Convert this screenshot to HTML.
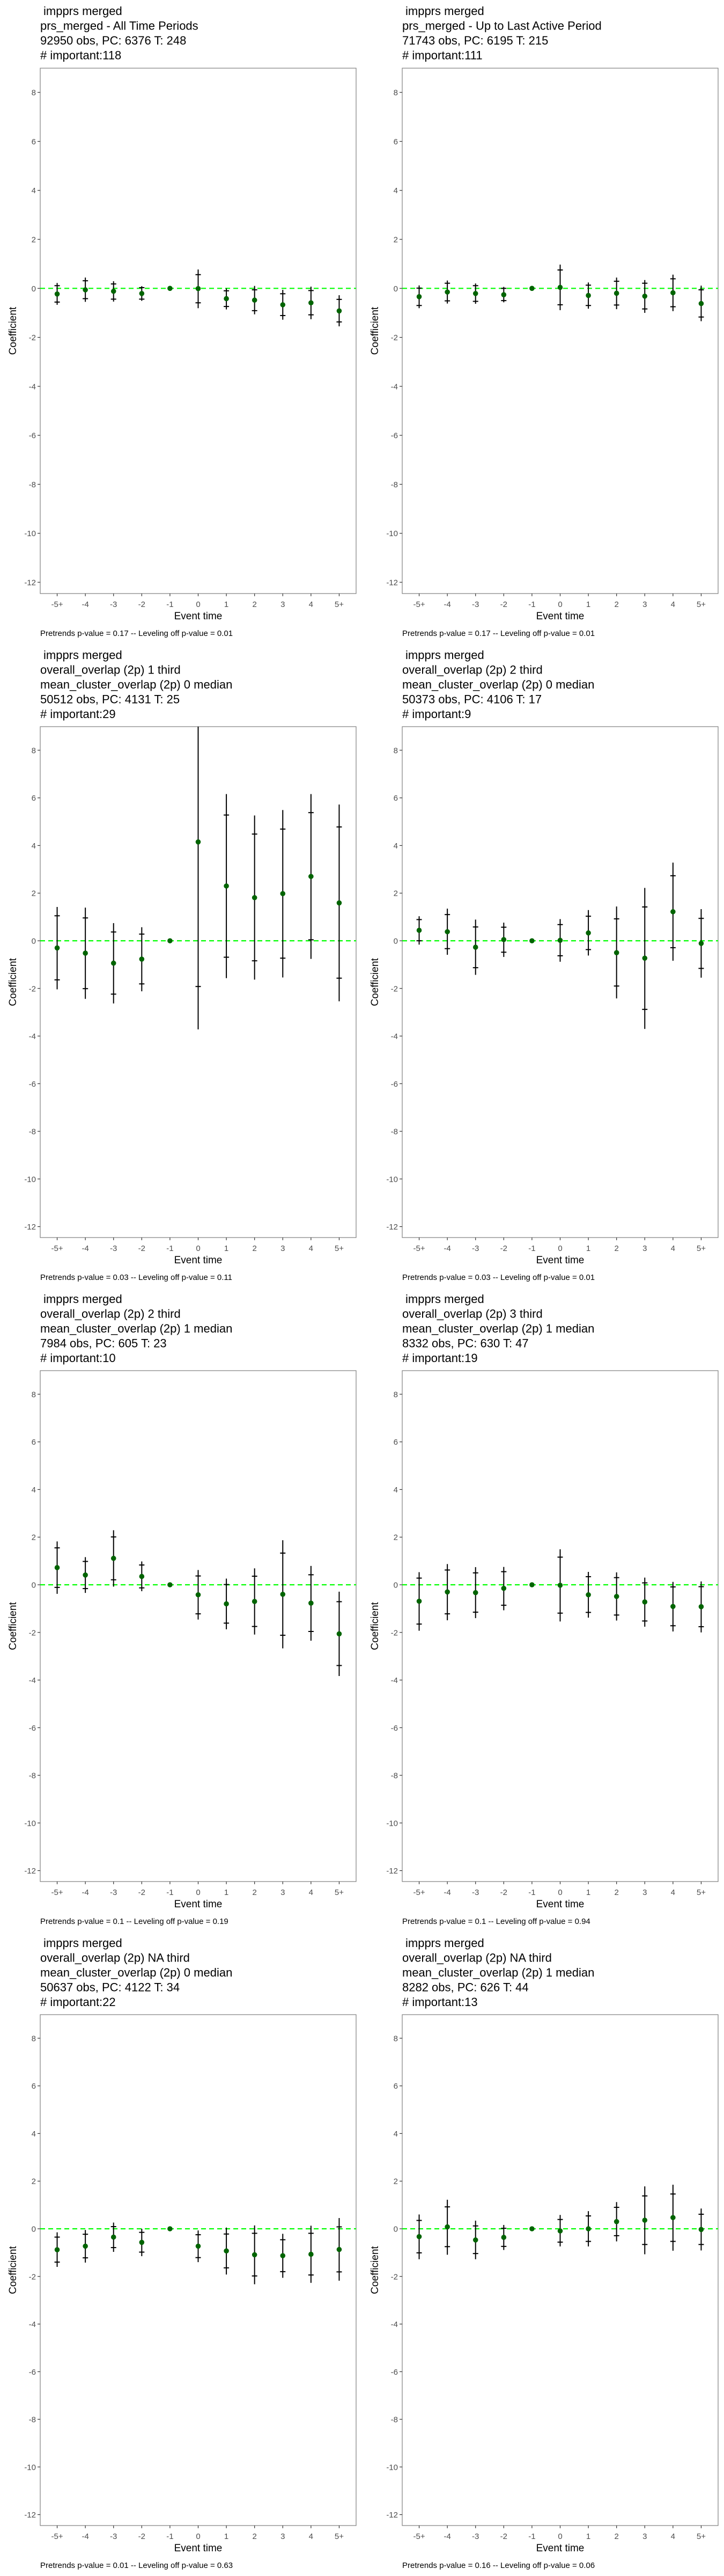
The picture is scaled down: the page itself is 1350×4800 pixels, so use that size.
<!DOCTYPE html>
<html>
<head>
<meta charset="utf-8">
<style>
  html, body { margin: 0; padding: 0; background: #ffffff; }
  svg { display: block; font-family: "Liberation Sans", Arial, sans-serif; }
</style>
</head>
<body>
<svg id="fig" width="1350" height="4800" viewBox="0 0 1350 4800" xmlns="http://www.w3.org/2000/svg"></svg>
<script>
// ---- Shared axis data ----
const eventCategories = ["-5+", "-4", "-3", "-2", "-1", "0", "1", "2", "3", "4", "5+"];
const yTickValues = [8, 6, 4, 2, 0, -2, -4, -6, -8, -10, -12];
const yTickLabels = ["8", "6", "4", "2", "0", "-2", "-4", "-6", "-8", "-10", "-12"];

// ---- Panel 1: prs_merged - All Time Periods ----
const est1    = [-0.23, -0.06, -0.12, -0.21, 0, -0.01, -0.42, -0.48, -0.67, -0.59, -0.92];
const capHi1  = [0.11, 0.31, 0.18, 0.03, null, 0.56, -0.10, -0.06, -0.22, -0.09, -0.45];
const capLo1  = [-0.56, -0.42, -0.44, -0.44, null, -0.59, -0.74, -0.91, -1.11, -1.08, -1.37];
const lineHi1 = [0.22, 0.44, 0.29, 0.09, null, 0.77, 0.00, 0.10, -0.06, 0.07, -0.28];
const lineLo1 = [-0.67, -0.55, -0.54, -0.51, null, -0.81, -0.86, -1.06, -1.28, -1.26, -1.55];

// ---- Panel 2: prs_merged - Up to Last Active Period ----
const est2    = [-0.34, -0.15, -0.21, -0.26, 0, 0.04, -0.29, -0.20, -0.32, -0.18, -0.62];
const capHi2  = [0.01, 0.21, 0.11, 0.00, null, 0.75, 0.13, 0.29, 0.21, 0.39, -0.06];
const capLo2  = [-0.70, -0.51, -0.53, -0.50, null, -0.67, -0.70, -0.68, -0.84, -0.75, -1.17];
const lineHi2 = [0.12, 0.32, 0.20, 0.06, null, 0.97, 0.24, 0.44, 0.34, 0.56, 0.11];
const lineLo2 = [-0.81, -0.62, -0.63, -0.57, null, -0.89, -0.83, -0.85, -1.00, -0.93, -1.34];

// ---- Panel 3: overlap 1 third / 0 median ----
const est3    = [-0.30, -0.52, -0.94, -0.77, 0, 4.15, 2.30, 1.81, 1.98, 2.70, 1.59];
const capHi3  = [1.05, 0.96, 0.37, 0.28, null, 10.2, 5.28, 4.48, 4.69, 5.38, 4.78];
const capLo3  = [-1.64, -2.01, -2.24, -1.81, null, -1.92, -0.69, -0.84, -0.73, 0.04, -1.57];
const lineHi3 = [1.42, 1.39, 0.74, 0.57, null, 12.0, 6.16, 5.26, 5.49, 6.16, 5.72];
const lineLo3 = [-2.04, -2.44, -2.63, -2.12, null, -3.72, -1.57, -1.63, -1.54, -0.76, -2.54];

// ---- Panel 4: overlap 2 third / 0 median ----
const est4    = [0.44, 0.38, -0.27, 0.05, 0, 0.02, 0.33, -0.50, -0.73, 1.22, -0.11];
const capHi4  = [0.89, 1.10, 0.58, 0.57, null, 0.68, 1.03, 0.92, 1.42, 2.73, 0.94];
const capLo4  = [0.00, -0.33, -1.13, -0.48, null, -0.63, -0.37, -1.90, -2.88, -0.29, -1.16];
const lineHi4 = [1.03, 1.35, 0.89, 0.76, null, 0.91, 1.29, 1.44, 2.22, 3.28, 1.33];
const lineLo4 = [-0.16, -0.59, -1.43, -0.68, null, -0.88, -0.62, -2.42, -3.70, -0.84, -1.55];

// ---- Panel 5: overlap 2 third / 1 median ----
const est5    = [0.72, 0.41, 1.11, 0.35, 0, -0.42, -0.80, -0.70, -0.40, -0.77, -2.06];
const capHi5  = [1.55, 0.98, 2.01, 0.83, null, 0.37, 0.01, 0.36, 1.33, 0.42, -0.71];
const capLo5  = [-0.11, -0.16, 0.21, -0.13, null, -1.22, -1.61, -1.75, -2.12, -1.96, -3.39];
const lineHi5 = [1.82, 1.16, 2.29, 0.98, null, 0.62, 0.26, 0.69, 1.87, 0.79, -0.29];
const lineLo5 = [-0.38, -0.34, -0.08, -0.27, null, -1.46, -1.87, -2.09, -2.67, -2.35, -3.83];

// ---- Panel 6: overlap 3 third / 1 median ----
const est6    = [-0.69, -0.30, -0.33, -0.15, 0, -0.02, -0.42, -0.49, -0.72, -0.91, -0.92];
const capHi6  = [0.28, 0.62, 0.50, 0.55, null, 1.16, 0.34, 0.30, 0.08, -0.09, -0.08];
const capLo6  = [-1.65, -1.22, -1.15, -0.86, null, -1.19, -1.16, -1.27, -1.52, -1.72, -1.76];
const lineHi6 = [0.53, 0.87, 0.74, 0.75, null, 1.49, 0.54, 0.52, 0.30, 0.12, 0.14];
const lineLo6 = [-1.93, -1.49, -1.40, -1.07, null, -1.54, -1.38, -1.50, -1.76, -1.96, -2.00];

// ---- Panel 7: overlap NA third / 0 median ----
const est7    = [-0.88, -0.73, -0.35, -0.57, 0, -0.73, -0.93, -1.09, -1.13, -1.07, -0.87];
const capHi7  = [-0.35, -0.23, 0.09, -0.15, null, -0.25, -0.22, -0.19, -0.46, -0.19, 0.08];
const capLo7  = [-1.40, -1.22, -0.79, -0.98, null, -1.21, -1.64, -1.98, -1.80, -1.94, -1.81];
const lineHi7 = [-0.15, -0.05, 0.26, 0.00, null, -0.07, 0.05, 0.14, -0.21, 0.13, 0.45];
const lineLo7 = [-1.60, -1.42, -0.97, -1.15, null, -1.40, -1.92, -2.33, -2.06, -2.27, -2.18];

// ---- Panel 8: overlap NA third / 1 median ----
const est8    = [-0.33, 0.08, -0.47, -0.36, 0, -0.09, 0.00, 0.30, 0.36, 0.47, -0.03];
const capHi8  = [0.35, 0.92, 0.12, 0.02, null, 0.39, 0.54, 0.90, 1.38, 1.46, 0.61];
const capLo8  = [-1.01, -0.75, -1.04, -0.74, null, -0.56, -0.53, -0.29, -0.66, -0.53, -0.66];
const lineHi8 = [0.60, 1.22, 0.34, 0.16, null, 0.58, 0.74, 1.12, 1.78, 1.85, 0.85];
const lineLo8 = [-1.28, -1.09, -1.28, -0.89, null, -0.74, -0.74, -0.53, -1.07, -0.92, -0.91];

const titles = [
  [" impprs merged", "prs_merged - All Time Periods", "92950 obs, PC: 6376 T: 248", "# important:118"],
  [" impprs merged", "prs_merged - Up to Last Active Period", "71743 obs, PC: 6195 T: 215", "# important:111"],
  [" impprs merged", "overall_overlap (2p) 1 third", "mean_cluster_overlap (2p) 0 median", "50512 obs, PC: 4131 T: 25", "# important:29"],
  [" impprs merged", "overall_overlap (2p) 2 third", "mean_cluster_overlap (2p) 0 median", "50373 obs, PC: 4106 T: 17", "# important:9"],
  [" impprs merged", "overall_overlap (2p) 2 third", "mean_cluster_overlap (2p) 1 median", "7984 obs, PC: 605 T: 23", "# important:10"],
  [" impprs merged", "overall_overlap (2p) 3 third", "mean_cluster_overlap (2p) 1 median", "8332 obs, PC: 630 T: 47", "# important:19"],
  [" impprs merged", "overall_overlap (2p) NA third", "mean_cluster_overlap (2p) 0 median", "50637 obs, PC: 4122 T: 34", "# important:22"],
  [" impprs merged", "overall_overlap (2p) NA third", "mean_cluster_overlap (2p) 1 median", "8282 obs, PC: 626 T: 44", "# important:13"]
];
const pretrendP = ["0.17", "0.17", "0.03", "0.03", "0.1", "0.1", "0.01", "0.16"];
const levelingP = ["0.01", "0.01", "0.11", "0.01", "0.19", "0.94", "0.63", "0.06"];

const panels = [
  [est1, capHi1, capLo1, lineHi1, lineLo1],
  [est2, capHi2, capLo2, lineHi2, lineLo2],
  [est3, capHi3, capLo3, lineHi3, lineLo3],
  [est4, capHi4, capLo4, lineHi4, lineLo4],
  [est5, capHi5, capLo5, lineHi5, lineLo5],
  [est6, capHi6, capLo6, lineHi6, lineLo6],
  [est7, capHi7, capLo7, lineHi7, lineLo7],
  [est8, capHi8, capLo8, lineHi8, lineLo8]
];

const NS = "http://www.w3.org/2000/svg";
const fig = document.getElementById("fig");
const Y_MAX = 8.99, Y_MIN = -12.46;

function mk(tag, attrs, parent) {
  const e = document.createElementNS(NS, tag);
  for (const k in attrs) e.setAttribute(k, attrs[k]);
  parent.appendChild(e);
  return e;
}

const defs = mk("defs", {}, fig);

panels.forEach(function (p, i) {
  const row = Math.floor(i / 2), col = i % 2;
  const ox = col * 675;
  const left = 75 + ox, right = 664 + ox;
  const top = row === 0 ? 127 : 1354 + 1200 * (row - 1);
  const bottom = 1106 + 1200 * row;
  const step = (right - left) / (eventCategories.length + 0.2);
  const xScale = function (k) { return left + step * (0.6 + k); };
  const yScale = function (v) { return top + (Y_MAX - v) / (Y_MAX - Y_MIN) * (bottom - top); };

  const g = mk("g", {}, fig);
  
  

  // title
  const tb = 28 + 1200 * row;
  titles[i].forEach(function (line, li) {
    const t = mk("text", { x: (li === 0 ? left + 6 : left), y: tb + li * 27.5, "font-size": "22", fill: "#000" }, g);
    
    
    t.textContent = line.trim();
  });

  // plot border
  const border = mk("rect", { x: left, y: top, width: right - left, height: bottom - top, fill: "#fff", stroke: "#7f7f7f", "stroke-width": "1.2" }, g);
  
  

  // clip
  const cp = mk("clipPath", { id: "clip" + i }, defs);
  mk("rect", { x: left, y: top, width: right - left, height: bottom - top }, cp);

  // y ticks
  yTickValues.forEach(function (v, k) {
    const y = yScale(v);
    const tk = mk("line", { x1: left - 5, x2: left, y1: y, y2: y, stroke: "#333", "stroke-width": "1.2" }, g);
    
    
    const tl = mk("text", { x: left - 8, y: y + 5.5, "font-size": "15", fill: "#4d4d4d", "text-anchor": "end" }, g);
    
    
    tl.textContent = yTickLabels[k];
  });

  // x ticks
  eventCategories.forEach(function (c, k) {
    const x = xScale(k);
    const tk = mk("line", { x1: x, x2: x, y1: bottom, y2: bottom + 5, stroke: "#333", "stroke-width": "1.2" }, g);
    
    
    const tl = mk("text", { x: x, y: bottom + 25, "font-size": "15", fill: "#4d4d4d", "text-anchor": "middle" }, g);
    
    
    tl.textContent = c;
  });

  // axis titles
  const xt = mk("text", { x: (left + right) / 2, y: bottom + 48, "font-size": "19", fill: "#000", "text-anchor": "middle" }, g);
  
  
  xt.textContent = "Event time";
  const cy = (top + bottom) / 2;
  const yt = mk("text", { x: 0, y: 0, "font-size": "19", fill: "#000", "text-anchor": "middle", transform: "translate(" + (ox + 30) + "," + cy + ") rotate(-90)" }, g);
  
  
  yt.textContent = "Coefficient";

  // caption
  const cap = mk("text", { x: left, y: bottom + 79, "font-size": "15", fill: "#000" }, g);
  
  
  cap.textContent = "Pretrends p-value = " + pretrendP[i] + " -- Leveling off p-value = " + levelingP[i];

  const marks = mk("g", { "clip-path": "url(#clip" + i + ")" }, g);

  // zero line
  const zl = mk("line", { x1: left, x2: right, y1: yScale(0), y2: yScale(0), stroke: "#00ff00", "stroke-width": "2.2", "stroke-dasharray": "9,6" }, marks);
  
  

  const est = p[0], capHi = p[1], capLo = p[2], lineHi = p[3], lineLo = p[4];
  est.forEach(function (v, k) {
    const x = xScale(k);
    if (lineHi[k] !== null) {
      const el = mk("line", { x1: x, x2: x, y1: yScale(lineHi[k]), y2: yScale(lineLo[k]), stroke: "#000", "stroke-width": "2" }, marks);
      
      
      [capHi[k], capLo[k]].forEach(function (cv) {
        const c = mk("line", { x1: x - 5, x2: x + 5, y1: yScale(cv), y2: yScale(cv), stroke: "#000", "stroke-width": "2" }, marks);
        
        
      });
    }
    const d = mk("circle", { cx: x, cy: yScale(v), r: "4.8", fill: "#006400" }, marks);
    
    
  });
});
</script>
</body>
</html>
